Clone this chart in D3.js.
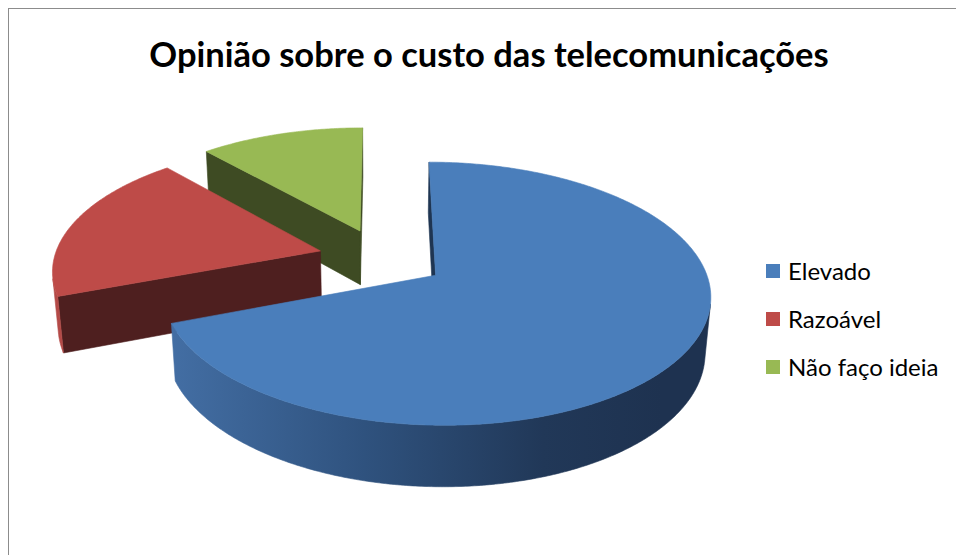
<!DOCTYPE html>
<html>
<head>
<meta charset="utf-8">
<script src="https://cdn.jsdelivr.net/npm/d3@7/dist/d3.min.js"></script>
<style>
  body { margin: 0; background: #fff; }
  svg { display: block; }
</style>
</head>
<body>
<svg id="chart" width="956" height="555"></svg>
<script>
// Survey answers
const categories = ["Elevado", "Razoável", "Não faço ideia"];
const values = [18, 5, 3];

const topColor  = d3.scaleOrdinal(categories, ["#4a7ebb", "#be4b48", "#98b954"]);
const faceColor = d3.scaleOrdinal(categories, ["#1f3552", "#4e1f1f", "#3e4b23"]);
const wallStops = {
  "Elevado":        ["#4875ad", "#2f527e", "#213858", "#1e3250"],
  "Razoável":       ["#b44a47", "#7a2e2c", "#521f1f", "#4a1c1c"],
  "Não faço ideia": ["#8fae50", "#5d7232", "#3e4b23", "#384420"]
};

const svg = d3.select("#chart");

// Frame
svg.append("rect")
  .attr("x", 8.5).attr("y", 8.5)
  .attr("width", 1000).attr("height", 600)
  .attr("fill", "none").attr("stroke", "#8c8c8c").attr("stroke-width", 1);

// Title
svg.append("text")
  .attr("x", 489).attr("y", 67)
  .attr("text-anchor", "middle")
  .attr("font-family", "Lato, 'Open Sans', sans-serif")
  .attr("font-weight", "bold")
  .attr("font-size", 34.5)
  .attr("fill", "#000")
  .text("Opinião sobre o custo das telecomunicações");

// --- 3D pie: disc of radius 1 seen from above with perspective ---
const cam = { cx: 382, cy: 258, f: 1712, D: 6.43, tilt: 27.8 * Math.PI / 180 };
const sinT = Math.sin(cam.tilt), cosT = Math.cos(cam.tilt);
const thickness = 0.237;
const explode = 0.24;

function project(X, Y, Z) {
  const d = cam.D - Y * sinT - Z * cosT;
  const v = Y * cosT - Z * sinT;
  return [cam.cx + cam.f * X / d, cam.cy - cam.f * v / d];
}
// camera position in world coordinates
const camPos = [0, cam.D * sinT, cam.D * cosT];

const pie = d3.pie().sort(null).value(d => d.value);
const arcs = pie(categories.map((c, i) => ({ name: c, value: values[i] })));

arcs.forEach(a => {
  const mid = (a.startAngle + a.endAngle) / 2;
  a.ox = explode * Math.sin(mid);
  a.oz = -explode * Math.cos(mid);
  a.depth = cam.D - (a.oz - 0.5 * Math.cos(mid)) * cosT;
});

const pt = (a, ang, r, Y) => project(a.ox + r * Math.sin(ang), Y, a.oz - r * Math.cos(ang));
const line = d3.line();

// wall gradients spanning the full width of the pie
const defs = svg.append("defs");
const xLeft = project(-1.2, 0, 0)[0], xRight = project(1.2, 0, 0)[0];
categories.forEach((c, i) => {
  const g = defs.append("linearGradient")
    .attr("id", "wall" + i)
    .attr("gradientUnits", "userSpaceOnUse")
    .attr("x1", xLeft + 60).attr("y1", 0).attr("x2", xRight - 40).attr("y2", 0);
  [0, 0.45, 0.78, 1].forEach((o, k) => {
    g.append("stop").attr("offset", o).attr("stop-color", wallStops[c][k]);
  });
});

// draw far slices first
const order = arcs.slice().sort((p, q) => q.depth - p.depth);

const layer = svg.append("g");
order.forEach(a => {
  const i = a.index;
  const g = layer.append("g").attr("class", "slice");

  // radial faces
  [["start", a.startAngle], ["end", a.endAngle]].forEach(([kind, ang]) => {
    const sgn = kind === "start" ? -1 : 1;
    const nx = sgn * Math.cos(ang), nz = sgn * Math.sin(ang);
    const vis = nx * (camPos[0] - a.ox) + nz * (camPos[2] - a.oz);
    if (vis <= 0) return;
    const poly = [pt(a, ang, 0, 0), pt(a, ang, 1, 0), pt(a, ang, 1, -thickness), pt(a, ang, 0, -thickness)];
    g.append("path").attr("d", line(poly) + "Z")
      .attr("fill", faceColor(a.data.name))
      .attr("stroke", faceColor(a.data.name)).attr("stroke-width", 0.6)
      .attr("stroke-linejoin", "round");
  });

  // outer wall: visible runs only
  const steps = Math.max(8, Math.ceil((a.endAngle - a.startAngle) / 0.01));
  let run = [];
  const runs = [];
  for (let k = 0; k <= steps; k++) {
    const ang = a.startAngle + (a.endAngle - a.startAngle) * k / steps;
    const X = a.ox + Math.sin(ang), Z = a.oz - Math.cos(ang);
    const vis = Math.sin(ang) * (camPos[0] - X) + (-Math.cos(ang)) * (camPos[2] - Z);
    if (vis > 0) run.push(ang);
    else if (run.length) { runs.push(run); run = []; }
  }
  if (run.length) runs.push(run);
  runs.forEach(r => {
    if (r.length < 2) return;
    const topEdge = r.map(ang => pt(a, ang, 1, 0));
    const botEdge = r.slice().reverse().map(ang => pt(a, ang, 1, -thickness));
    g.append("path").attr("d", line(topEdge.concat(botEdge)) + "Z")
      .attr("fill", `url(#wall${i})`)
      .attr("stroke", `url(#wall${i})`).attr("stroke-width", 0.6);
  });

  // top face
  const n = Math.max(8, Math.ceil((a.endAngle - a.startAngle) / 0.01));
  const top = [pt(a, 0, 0, 0)];
  for (let k = 0; k <= n; k++) {
    const ang = a.startAngle + (a.endAngle - a.startAngle) * k / n;
    top.push(pt(a, ang, 1, 0));
  }
  g.append("path").attr("d", line(top) + "Z")
    .attr("fill", topColor(a.data.name))
    .attr("stroke", topColor(a.data.name)).attr("stroke-width", 0.6)
    .attr("stroke-linejoin", "round");
});

// Legend
const legend = svg.append("g").attr("transform", "translate(766,264)");
const items = legend.selectAll("g").data(categories).join("g")
  .attr("transform", (d, i) => `translate(0,${i * 48})`);
items.append("rect")
  .attr("width", 14).attr("height", 14)
  .attr("fill", d => topColor(d));
items.append("text")
  .attr("x", 22).attr("y", 15.5)
  .attr("font-family", "Lato, 'Open Sans', sans-serif")
  .attr("font-size", 24)
  .attr("fill", "#000")
  .text(d => d);
</script>
</body>
</html>
